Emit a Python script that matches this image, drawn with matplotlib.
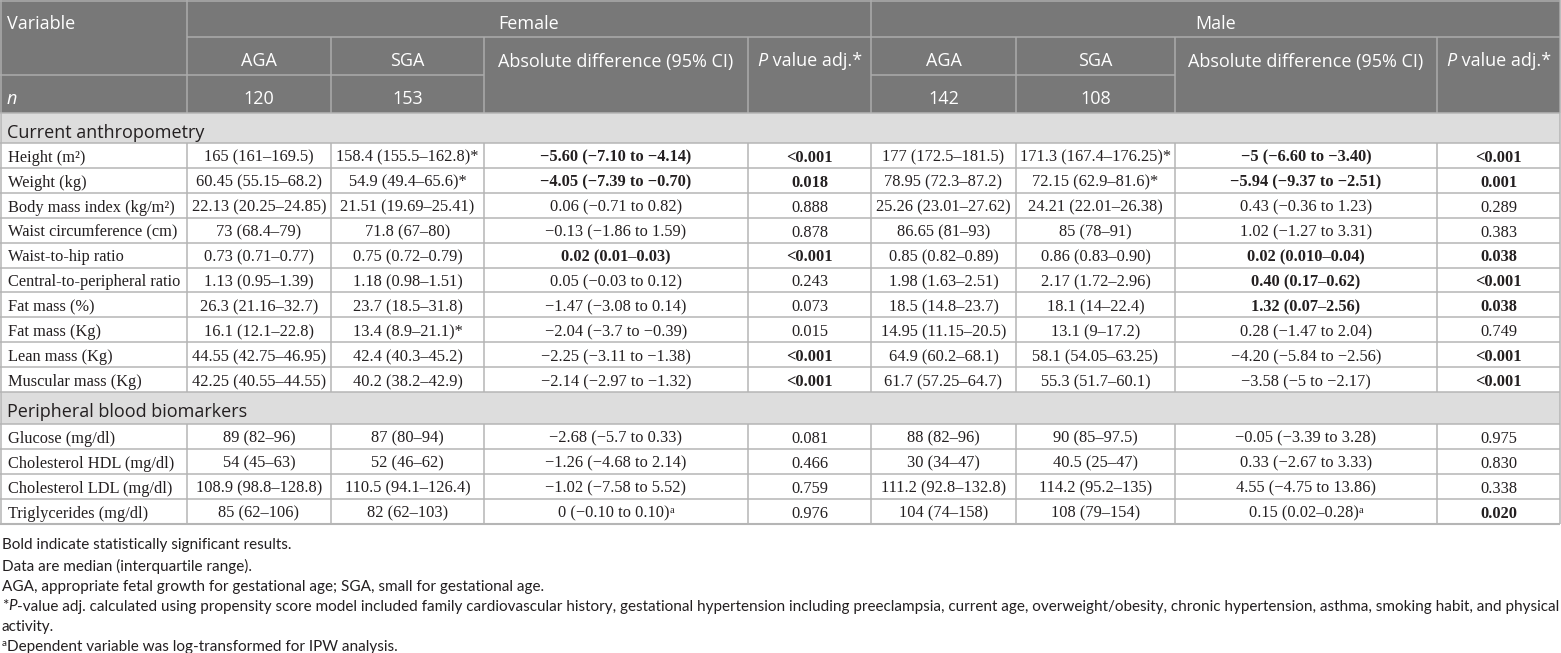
import matplotlib
matplotlib.use('Agg')
import matplotlib.pyplot as plt
from matplotlib.patches import Rectangle

sections = ["Current anthropometry", "Peripheral blood biomarkers"]
anthro_vars = ["Height (m²)", "Weight (kg)", "Body mass index (kg/m²)", "Waist circumference (cm)",
               "Waist-to-hip ratio", "Central-to-peripheral ratio", "Fat mass (%)", "Fat mass (Kg)",
               "Lean mass (Kg)", "Muscular mass (Kg)"]
blood_vars = ["Glucose (mg/dl)", "Cholesterol HDL (mg/dl)", "Cholesterol LDL (mg/dl)", "Triglycerides (mg/dl)"]

groups = ["Female", "Male"]
sub_heads = ["AGA", "SGA", "Absolute difference (95% CI)", "P value adj.*"]
n_female = ["120", "153"]
n_male = ["142", "108"]

female_aga = ["165 (161–169.5)", "60.45 (55.15–68.2)", "22.13 (20.25–24.85)", "73 (68.4–79)",
              "0.73 (0.71–0.77)", "1.13 (0.95–1.39)", "26.3 (21.16–32.7)", "16.1 (12.1–22.8)",
              "44.55 (42.75–46.95)", "42.25 (40.55–44.55)",
              "89 (82–96)", "54 (45–63)", "108.9 (98.8–128.8)", "85 (62–106)"]
female_sga = ["158.4 (155.5–162.8)*", "54.9 (49.4–65.6)*", "21.51 (19.69–25.41)", "71.8 (67–80)",
              "0.75 (0.72–0.79)", "1.18 (0.98–1.51)", "23.7 (18.5–31.8)", "13.4 (8.9–21.1)*",
              "42.4 (40.3–45.2)", "40.2 (38.2–42.9)",
              "87 (80–94)", "52 (46–62)", "110.5 (94.1–126.4)", "82 (62–103)"]
female_diff = ["−5.60 (−7.10 to −4.14)", "−4.05 (−7.39 to −0.70)", "0.06 (−0.71 to 0.82)",
               "−0.13 (−1.86 to 1.59)", "0.02 (0.01–0.03)", "0.05 (−0.03 to 0.12)",
               "−1.47 (−3.08 to 0.14)", "−2.04 (−3.7 to −0.39)", "−2.25 (−3.11 to −1.38)",
               "−2.14 (−2.97 to −1.32)",
               "−2.68 (−5.7 to 0.33)", "−1.26 (−4.68 to 2.14)", "−1.02 (−7.58 to 5.52)",
               "0 (−0.10 to 0.10)^a"]
female_p = ["<0.001", "0.018", "0.888", "0.878", "<0.001", "0.243", "0.073", "0.015", "<0.001", "<0.001",
            "0.081", "0.466", "0.759", "0.976"]
male_aga = ["177 (172.5–181.5)", "78.95 (72.3–87.2)", "25.26 (23.01–27.62)", "86.65 (81–93)",
            "0.85 (0.82–0.89)", "1.98 (1.63–2.51)", "18.5 (14.8–23.7)", "14.95 (11.15–20.5)",
            "64.9 (60.2–68.1)", "61.7 (57.25–64.7)",
            "88 (82–96)", "30 (34–47)", "111.2 (92.8–132.8)", "104 (74–158)"]
male_sga = ["171.3 (167.4–176.25)*", "72.15 (62.9–81.6)*", "24.21 (22.01–26.38)", "85 (78–91)",
            "0.86 (0.83–0.90)", "2.17 (1.72–2.96)", "18.1 (14–22.4)", "13.1 (9–17.2)",
            "58.1 (54.05–63.25)", "55.3 (51.7–60.1)",
            "90 (85–97.5)", "40.5 (25–47)", "114.2 (95.2–135)", "108 (79–154)"]
male_diff = ["−5 (−6.60 to −3.40)", "−5.94 (−9.37 to −2.51)", "0.43 (−0.36 to 1.23)",
             "1.02 (−1.27 to 3.31)", "0.02 (0.010–0.04)", "0.40 (0.17–0.62)", "1.32 (0.07–2.56)",
             "0.28 (−1.47 to 2.04)", "−4.20 (−5.84 to −2.56)", "−3.58 (−5 to −2.17)",
             "−0.05 (−3.39 to 3.28)", "0.33 (−2.67 to 3.33)", "4.55 (−4.75 to 13.86)",
             "0.15 (0.02–0.28)^a"]
male_p = ["<0.001", "0.001", "0.289", "0.383", "0.038", "<0.001", "0.038", "0.749", "<0.001", "<0.001",
          "0.975", "0.830", "0.338", "0.020"]

# significant (bold) cells, by row index
female_diff_bold = [0, 1, 4]
female_p_bold = [0, 1, 4, 8, 9]
male_diff_bold = [0, 1, 4, 5, 6]
male_p_bold = [0, 1, 4, 5, 6, 8, 9, 13]

notes = ["Bold indicate statistically significant results.",
         "Data are median (interquartile range).",
         "AGA, appropriate fetal growth for gestational age; SGA, small for gestational age.",
         "*|P|-value adj. calculated using propensity score model included family cardiovascular history, "
         "gestational hypertension including preeclampsia, current age, overweight/obesity, chronic hypertension, "
         "asthma, smoking habit, and physical",
         "activity.",
         "^a|Dependent variable was log-transformed for IPW analysis."]

# ---- style ----
W, H = 1561, 653
HEAD_FONT = ['Open Sans', 'DejaVu Sans']
BODY_FONT = ['Liberation Serif', 'DejaVu Serif']
NOTE_FONT = ['Lato', 'DejaVu Sans']
HEAD_SIZE = 13
BODY_SIZE = 11.8
NOTE_SIZE = 11
PX = 100 / 72.0
HEAD_BG = '#787878'
HEAD_LINE = '#ababab'
BAND = '#dddddd'
GRID = '#b5b5b5'
INK = '#231f20'
LW = 1.1

cols = [0, 187, 331, 484, 748, 871, 1016, 1175, 1437, 1560]
hdr = [0, 37, 75, 113]
band_h = [30, 32]
row_h = 24.9

fig = plt.figure(figsize=(W / 100, H / 100), dpi=100)
ax = fig.add_axes([0, 0, 1, 1])
ax.set_xlim(0, W)
ax.set_ylim(H, 0)
ax.axis('off')
renderer = fig.canvas.get_renderer()


def run_width(s, props):
    a = ax.text(0, 0, '|' + s + '|', **props)
    b = ax.text(0, 0, '||', **props)
    w = a.get_window_extent(renderer).width - b.get_window_extent(renderer).width
    a.remove()
    b.remove()
    return w


def runs(x, y, parts, ha='left'):
    # parts: list of (text, props, rise_px); y is the baseline
    widths = [run_width(s, p) for s, p, r in parts]
    start = x - sum(widths) / 2 if ha == 'center' else x
    for (s, p, r), w in zip(parts, widths):
        ax.text(start, y - r, s, ha='left', va='baseline', **p)
        start += w


def hline(y, x0, x1, c=GRID, lw=LW):
    ax.plot([x0, x1], [y, y], color=c, lw=lw, solid_capstyle='butt')


def vline(x, y0, y1, c=GRID, lw=LW):
    ax.plot([x, x], [y0, y1], color=c, lw=lw, solid_capstyle='butt')


head = dict(family=HEAD_FONT, fontsize=HEAD_SIZE, color='white')
head_it = dict(head, style='italic')
body = dict(family=BODY_FONT, fontsize=BODY_SIZE, color=INK)
body_b = dict(body, weight='bold')
note = dict(family=NOTE_FONT, fontsize=NOTE_SIZE, color=INK)
note_it = dict(note, style='italic')


def head_base(y0, y1):
    return (y0 + y1) / 2 + 0.36 * HEAD_SIZE * PX + 4


def body_base(yc):
    return yc + 0.33 * BODY_SIZE * PX + 1


def cell(text, x, yb, props):
    if text.endswith('^a'):
        sup = dict(props, fontsize=BODY_SIZE * 0.62, weight='normal')
        runs(x, yb, [(text[:-2], props, 0), ('a', sup, 5)], ha='center')
    else:
        ax.text(x, yb, text, ha='center', va='baseline', **props)


# ---- header block ----
ax.add_patch(Rectangle((0, 0), cols[-1], hdr[3], fc=HEAD_BG, ec='none'))
ax.text(7, head_base(hdr[0], hdr[1]), "Variable", ha='left', va='baseline', **head)
for g, (c0, c1) in zip(groups, [(cols[1], cols[5]), (cols[5], cols[9])]):
    ax.text((c0 + c1) / 2, head_base(hdr[0], hdr[1]), g, ha='center', va='baseline', **head)
yb2 = head_base(hdr[1], hdr[2])
yb3 = head_base(hdr[2], hdr[3])
for k, ns in zip([1, 5], [n_female, n_male]):
    for j in range(4):
        xc = (cols[k + j] + cols[k + j + 1]) / 2
        if j == 3:
            runs(xc, yb2, [("P", head_it, 0), (" value adj.*", head, 0)], ha='center')
        else:
            ax.text(xc, yb2, sub_heads[j], ha='center', va='baseline', **head)
        if j < 2:
            ax.text(xc, yb3, ns[j], ha='center', va='baseline', **head)
ax.text(7, yb3, "n", ha='left', va='baseline', **head_it)

hline(hdr[1], cols[1], cols[9], HEAD_LINE)
hline(hdr[2], cols[0], cols[3], HEAD_LINE)
hline(hdr[2], cols[5], cols[7], HEAD_LINE)
for x in [cols[1], cols[5]]:
    vline(x, hdr[0], hdr[3], HEAD_LINE)
for x in [cols[2], cols[3], cols[4], cols[6], cols[7], cols[8]]:
    vline(x, hdr[1], hdr[3], HEAD_LINE)
hline(0.5, 0, cols[-1], HEAD_LINE)
vline(0.8, 0, hdr[3], HEAD_LINE)
vline(cols[-1], 0, hdr[3], HEAD_LINE)

# ---- body ----
columns = [female_aga, female_sga, female_diff, female_p, male_aga, male_sga, male_diff, male_p]
bolds = [[], [], female_diff_bold, female_p_bold, [], [], male_diff_bold, male_p_bold]

y = hdr[3]
idx = 0
for s, (name, names) in enumerate(zip(sections, [anthro_vars, blood_vars])):
    bh = band_h[s]
    ax.add_patch(Rectangle((0.8, y), cols[-1] - 0.8, bh, fc=BAND, ec='none'))
    hline(y, 0, cols[-1])
    vline(0.8, y, y + bh)
    vline(cols[-1], y, y + bh)
    sec = dict(head, color=INK)
    ax.text(7, (2 * y + bh) / 2 + 0.36 * HEAD_SIZE * PX + 3, name, ha='left', va='baseline', **sec)
    y += bh
    top = y
    for v in names:
        hline(y, 0, cols[-1])
        yb = body_base(y + row_h / 2)
        ax.text(8, yb, v, ha='left', va='baseline', **body)
        for j, col in enumerate(columns):
            xc = (cols[j + 1] + cols[j + 2]) / 2
            cell(col[idx], xc, yb, body_b if idx in bolds[j] else body)
        y += row_h
        idx += 1
    for x in cols[1:-1]:
        vline(x, top, y)
    vline(0.8, top, y)
    vline(cols[-1], top, y)
hline(y, 0, cols[-1], GRID, 1.5)

# ---- footnotes ----
note_y = [544, 565, 585, 605, 625, 645]
for t, yc in zip(notes, note_y):
    yb = yc + 0.36 * NOTE_SIZE * PX
    if t.startswith('^a|'):
        runs(2, yb, [('a', dict(note, fontsize=NOTE_SIZE * 0.65), 5), (t[3:], note, 0)])
    elif '|' in t:
        a, b, c = t.split('|')
        runs(2, yb, [(a, note, 0), (b, note_it, 0), (c, note, 0)])
    else:
        ax.text(2, yb, t, ha='left', va='baseline', **note)

fig.savefig('out.png', dpi=100, facecolor='white')
